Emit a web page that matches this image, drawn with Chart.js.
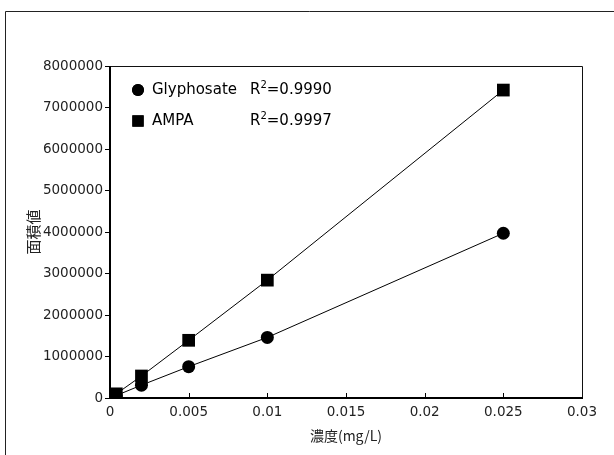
<!DOCTYPE html>
<html>
<head>
<meta charset="utf-8">
<script src="https://cdn.jsdelivr.net/npm/chart.js@4"></script>
<style>
  html, body { margin: 0; padding: 0; background: #fff; }
  #wrap { width: 614px; height: 455px; position: relative; }
</style>
</head>
<body>
<div id="wrap"><canvas id="calib" width="614" height="455"></canvas></div>
<script>
// ---- data ----
const concentrations = [0.0004, 0.002, 0.005, 0.01, 0.025];
const glyphosateArea = [60000, 310000, 755000, 1460000, 3970000];
const ampaArea = [100000, 530000, 1390000, 2840000, 7420000];
const seriesNames = ['Glyphosate', 'AMPA'];
const r2Values = ['0.9990', '0.9997'];
const xTicks = [0, 0.005, 0.01, 0.015, 0.02, 0.025, 0.03];
const yTicks = [0, 1000000, 2000000, 3000000, 4000000, 5000000, 6000000, 7000000, 8000000];

const FONT = '"DejaVu Sans", Arial, sans-serif';
const JP_FONT = '"Noto Sans CJK JP", sans-serif';

function toPoints(ys) {
  return concentrations.map((x, i) => ({ x: x, y: ys[i] }));
}

// outer frame, plot border, inward x ticks and the legend
const decorations = {
  id: 'decorations',
  beforeDraw(chart) {
    const ctx = chart.ctx;
    ctx.save();
    ctx.strokeStyle = '#222';
    ctx.lineWidth = 1;
    ctx.beginPath();
    ctx.moveTo(5.5, 455);
    ctx.lineTo(5.5, 11.5);
    ctx.lineTo(614, 11.5);
    ctx.stroke();
    ctx.restore();
  },
  afterDatasetsDraw(chart) {
    const ctx = chart.ctx;
    const a = chart.chartArea;
    const xs = chart.scales.x;
    ctx.save();
    // top and right thin border
    ctx.strokeStyle = '#111';
    ctx.lineWidth = 1;
    ctx.beginPath();
    ctx.moveTo(a.left, a.top + 0.5);
    ctx.lineTo(a.right + 0.5, a.top + 0.5);
    ctx.lineTo(a.right + 0.5, a.bottom);
    ctx.stroke();
    // left and bottom thick axes
    ctx.strokeStyle = '#000';
    ctx.lineWidth = 2;
    ctx.beginPath();
    ctx.moveTo(a.left, a.top);
    ctx.lineTo(a.left, a.bottom);
    ctx.lineTo(a.right + 1, a.bottom);
    ctx.stroke();
    // x ticks pointing into the plot
    ctx.lineWidth = 1;
    ctx.beginPath();
    xTicks.slice(1, -1).forEach(v => {
      const px = Math.round(xs.getPixelForValue(v)) + 0.5;
      ctx.moveTo(px, a.bottom);
      ctx.lineTo(px, a.bottom - 5);
    });
    ctx.stroke();

    // legend
    const rows = [{ y: 90, style: 'circle', r: 6 }, { y: 121, style: 'rect', r: 8 }];
    rows.forEach((row, i) => {
      ctx.fillStyle = '#000';
      Chart.helpers.drawPoint(ctx, { pointStyle: row.style, radius: row.r, rotation: 0, borderWidth: 0 }, 138, row.y);
      ctx.fill();
      ctx.font = '15px ' + FONT;
      ctx.textBaseline = 'middle';
      ctx.textAlign = 'left';
      ctx.fillText(seriesNames[i], 152, row.y);
      ctx.fillText('R', 250, row.y);
      const rw = ctx.measureText('R').width;
      ctx.font = '10px ' + FONT;
      ctx.fillText('2', 250 + rw, row.y - 5);
      const sw = ctx.measureText('2').width;
      ctx.font = '15px ' + FONT;
      ctx.fillText('=' + r2Values[i], 250 + rw + sw, row.y);
    });
    ctx.restore();
  }
};

new Chart(document.getElementById('calib'), {
  type: 'scatter',
  data: {
    datasets: [
      {
        label: seriesNames[0],
        data: toPoints(glyphosateArea),
        showLine: true,
        borderColor: '#000',
        borderWidth: 1,
        backgroundColor: '#000',
        pointStyle: 'circle',
        pointRadius: 6.5,
        pointBorderWidth: 0
      },
      {
        label: seriesNames[1],
        data: toPoints(ampaArea),
        showLine: true,
        borderColor: '#000',
        borderWidth: 1,
        backgroundColor: '#000',
        pointStyle: 'rect',
        pointRadius: 9,
        pointBorderWidth: 0
      }
    ]
  },
  options: {
    responsive: false,
    animation: false,
    events: [],
    layout: { padding: { top: 66, right: 32, left: 0, bottom: 0 } },
    plugins: {
      legend: { display: false },
      tooltip: { enabled: false }
    },
    scales: {
      x: {
        type: 'linear',
        min: 0,
        max: 0.03,
        afterBuildTicks: s => { s.ticks = xTicks.map(v => ({ value: v })); },
        afterFit: s => { s.height = 57; },
        grid: { display: false, drawTicks: false },
        border: { display: false },
        ticks: {
          padding: 6,
          color: '#222',
          font: { family: FONT, size: 13.5 },
          callback: v => String(v)
        },
        title: {
          display: true,
          text: '濃度(mg/L)',
          color: '#222',
          font: { family: JP_FONT, size: 14 },
          padding: { top: 0, bottom: 11 }
        }
      },
      y: {
        type: 'linear',
        min: 0,
        max: 8000000,
        afterBuildTicks: s => { s.ticks = yTicks.map(v => ({ value: v })); },
        afterFit: s => { s.width = 110; },
        grid: { drawOnChartArea: false, drawTicks: true, tickLength: 5, color: '#000', tickWidth: 1 },
        border: { display: false },
        ticks: {
          padding: 2,
          color: '#222',
          font: { family: FONT, size: 13.5 },
          callback: v => String(v)
        },
        title: {
          display: true,
          text: '面積値',
          color: '#222',
          font: { family: JP_FONT, size: 15 },
          padding: { top: 24, bottom: 0 }
        }
      }
    }
  },
  plugins: [decorations]
});
</script>
</body>
</html>
